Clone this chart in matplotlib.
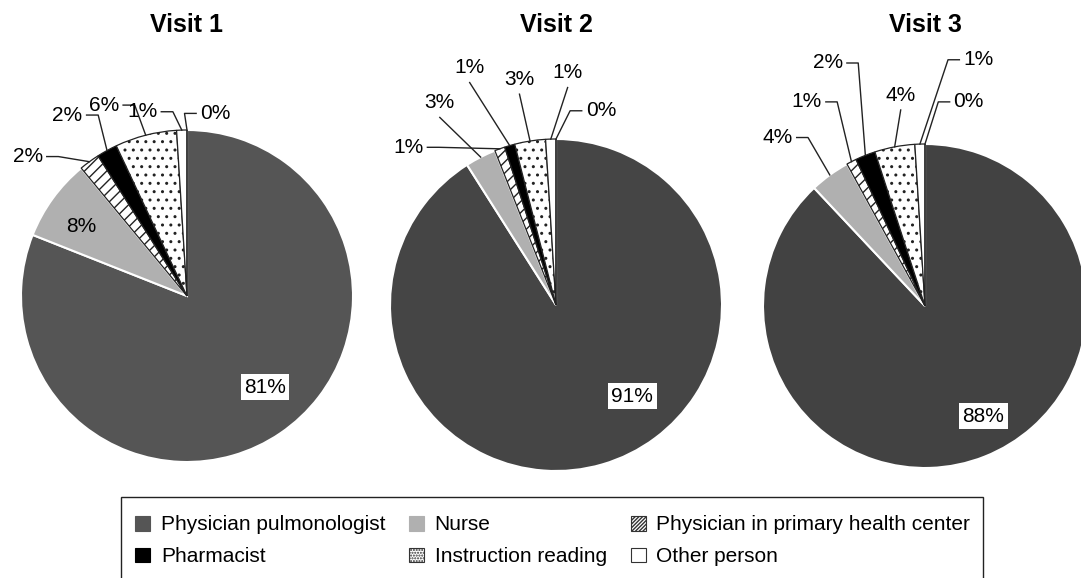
import matplotlib
matplotlib.use('Agg')
import matplotlib.pyplot as plt
from matplotlib.patches import Patch, Rectangle
import numpy as np

plt.rcParams['font.family'] = ['Liberation Sans', 'DejaVu Sans']
plt.rcParams['hatch.linewidth'] = 1.0

# ---- data ----
visits = ['Visit 1', 'Visit 2', 'Visit 3']
categories = ['Physician pulmonologist', 'Nurse', 'Physician in primary health center',
              'Pharmacist', 'Instruction reading', 'Other person', 'Unspecified']
visit1 = [81, 8, 2, 2, 6, 1, 0]
visit2 = [91, 3, 1, 1, 3, 1, 0]
visit3 = [88, 4, 1, 2, 4, 1, 0]
values = [visit1, visit2, visit3]

# ---- styles ----
W, H = 1081, 578
pulmo_shade = ['#555555', '#454545', '#424242']
faces = [None, '#b0b0b0', 'white', 'black', 'white', 'white', 'white']
hatches = [None, None, '///', None, '..', None, None]
edges = ['white', 'white', '#222222', '#222222', '#222222', '#222222', '#222222']

# pie centre (px), radius (px)
pies = [(187, 296, 166), (556, 305, 166), (925, 306, 162)]

# label placement in radius units: (x, y, leader side)
label_pos = [
    [(0.47, -0.55, 'box'), (-0.64, 0.42, None), (-0.96, 0.84, 'r'), (-0.72, 1.09, 'r'),
     (-0.50, 1.15, 'r'), (-0.27, 1.11, 'r'), (0.17, 1.10, 'l')],
    [(0.46, -0.55, 'box'), (-0.70, 1.22, 'b'), (-0.89, 0.95, 'r'), (-0.52, 1.43, 'b'),
     (-0.22, 1.36, 'b'), (0.07, 1.40, 'b'), (0.27, 1.17, 'l')],
    [(0.36, -0.68, 'box'), (-0.91, 1.04, 'r'), (-0.73, 1.26, 'r'), (-0.60, 1.50, 'r'),
     (-0.15, 1.30, 'b'), (0.33, 1.52, 'l'), (0.27, 1.26, 'l')],
]

fig = plt.figure(figsize=(W / 100, H / 100), dpi=100)

for i in range(3):
    cx, cy, r = pies[i]
    k = 1.8
    ax = fig.add_axes([(cx - k * r) / W, (H - cy - k * r) / H, 2 * k * r / W, 2 * k * r / H])
    cols = [pulmo_shade[i]] + faces[1:]
    wedges, _ = ax.pie(values[i], colors=cols, startangle=90, counterclock=False,
                       radius=1.0, wedgeprops=dict(linewidth=1.0))
    for j, w in enumerate(wedges):
        w.set_edgecolor(edges[j])
        if j < 2:
            w.set_linewidth(1.5)
        else:
            w.set_linewidth(0.9)
        if hatches[j]:
            w.set_hatch(hatches[j])
    ax.set_xlim(-k, k)
    ax.set_ylim(-k, k)
    ax.axis('off')

    for j, w in enumerate(wedges):
        tx, ty, side = label_pos[i][j]
        txt = str(values[i][j]) + '%'
        if side == 'box':
            ax.text(tx, ty, txt, ha='center', va='center', fontsize=15,
                    bbox=dict(facecolor='white', edgecolor='none', pad=2.5))
            continue
        ax.text(tx, ty, txt, ha='center', va='center', fontsize=15, clip_on=False)
        if side is None:
            continue
        mid = np.deg2rad((w.theta1 + w.theta2) / 2)
        ex, ey = np.cos(mid) * 1.0, np.sin(mid) * 1.0
        hw = 0.115 * 166 / r
        if side == 'r':
            xs = [tx + hw, tx + hw + 0.07, ex]
            ys = [ty, ty, ey]
        elif side == 'l':
            xs = [tx - hw, tx - hw - 0.07, ex]
            ys = [ty, ty, ey]
        else:
            xs = [tx, ex]
            ys = [ty - 0.09, ey]
        ax.plot(xs, ys, color='#222222', lw=1.0, clip_on=False)

    fig.text(cx / W, 1 - 25 / H, visits[i], ha='center', va='center',
             fontsize=18, fontweight='bold')

# legend
handles = []
for j in range(6):
    fc = pulmo_shade[0] if j == 0 else faces[j]
    ec = fc if j in (0, 1, 3) else '#333333'
    h = hatches[j] * 3 if hatches[j] else None
    handles.append(Patch(facecolor=fc, edgecolor=ec, hatch=h, linewidth=0.8))
order = [0, 3, 1, 4, 2, 5]
fig.legend([handles[o] for o in order], [categories[o] for o in order], ncol=3,
           loc='upper left', bbox_to_anchor=(125 / W, 1 - 505 / H), frameon=False,
           fontsize=15, handlelength=0.72, handleheight=0.72, handletextpad=0.5,
           columnspacing=1.15, labelspacing=0.62, borderpad=0)
fig.add_artist(Rectangle((121 / W, -0.05), (983 - 121) / W, (578 - 497) / H + 0.05,
                         transform=fig.transFigure, fill=False, edgecolor='#222222', lw=1.0))

fig.savefig('out.png', dpi=100)
